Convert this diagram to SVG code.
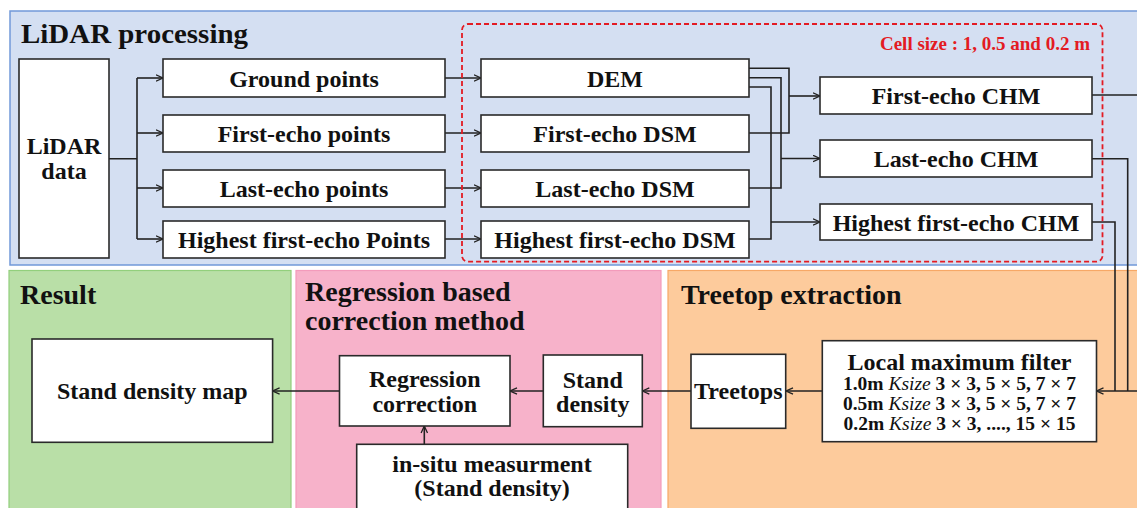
<svg xmlns="http://www.w3.org/2000/svg" width="1137" height="508" viewBox="0 0 1137 508">
  <style>
    text { font-family: "Liberation Serif", "Times New Roman", serif; font-weight: bold; fill: #111; }
    .title { font-size: 28px; }
    .lbl { font-size: 24px; text-anchor: middle; }
    .ks { font-size: 19.5px; text-anchor: middle; }
    .ks .it { font-style: italic; font-weight: normal; }
    .cell { font-size: 19px; fill: #e31b23; text-anchor: end; }
    .box { fill: #ffffff; stroke: #2a2a2a; stroke-width: 1.6; }
    .wire { fill: none; stroke: #222; stroke-width: 1.6; }
    .arr { marker-end: url(#head); }
  </style>
  <defs>
    <marker id="head" viewBox="0 0 8 8" refX="7.5" refY="4" markerWidth="8" markerHeight="8" markerUnits="userSpaceOnUse" orient="auto">
      <path d="M0.5,0.8 L7.5,4 L0.5,7.2" fill="none" stroke="#222" stroke-width="1.3"/>
    </marker>
  </defs>

  <rect width="1137" height="508" fill="#ffffff"/>

  <!-- panels -->
  <g id="panel-lidar">
    <rect x="10" y="11" width="1140" height="254" fill="#d4dff2" stroke="#7199d9" stroke-width="1.5"/>
    <text class="title" x="21" y="43" textLength="227" lengthAdjust="spacingAndGlyphs">LiDAR processing</text>
  </g>
  <g id="panel-result">
    <rect x="9" y="270.5" width="282" height="245" fill="#b9dfa7" stroke="#92cf7c" stroke-width="1.2"/>
    <text class="title" x="20" y="304">Result</text>
  </g>
  <g id="panel-regression">
    <rect x="296" y="270.5" width="365" height="245" fill="#f7b2ca" stroke="#f39bbb" stroke-width="1.2"/>
    <text class="title" x="305" y="301">Regression based</text>
    <text class="title" x="305" y="330">correction method</text>
  </g>
  <g id="panel-treetop">
    <rect x="668" y="270.5" width="480" height="245" fill="#fdcb9c" stroke="#f7a866" stroke-width="1.2"/>
    <text class="title" x="681" y="304">Treetop extraction</text>
  </g>

  <!-- connectors -->
  <g id="connectors">
    <!-- LiDAR data to point sets -->
    <path class="wire" d="M109,158.7 H137 M137,78 V239"/>
    <path class="wire arr" d="M137,78 H163"/>
    <path class="wire arr" d="M137,133 H163"/>
    <path class="wire arr" d="M137,188 H163"/>
    <path class="wire arr" d="M137,239 H163"/>
    <!-- point sets to rasters -->
    <path class="wire arr" d="M445,78 H481"/>
    <path class="wire arr" d="M445,133 H481"/>
    <path class="wire arr" d="M445,188 H481"/>
    <path class="wire arr" d="M445,239 H481"/>
    <!-- DEM and DSMs to CHMs -->
    <path class="wire" d="M749,68.3 H789 V133 H749"/>
    <path class="wire arr" d="M789,96 H820"/>
    <path class="wire" d="M749,77.7 H781 V188 H749"/>
    <path class="wire arr" d="M781,158.5 H820"/>
    <path class="wire" d="M749,87 H771 V239 H749"/>
    <path class="wire arr" d="M771,222 H820"/>
    <!-- CHMs to local maximum filter -->
    <path class="wire" d="M1092,95 H1140"/>
    <path class="wire" d="M1092,158.7 H1127.7 V391"/>
    <path class="wire" d="M1092,222 H1115 V391"/>
    <path class="wire arr" d="M1140,391 H1096.5"/>
    <!-- lower chain -->
    <path class="wire arr" d="M822,391 H786"/>
    <path class="wire arr" d="M691,391 H642.3"/>
    <path class="wire arr" d="M543.3,391 H510"/>
    <path class="wire arr" d="M339.5,391 H272.6"/>
    <path class="wire arr" d="M424.3,444.3 V426"/>
  </g>

  <!-- cell size frame -->
  <g id="cell-size-frame">
    <rect x="462" y="24" width="640.5" height="237.7" rx="6" fill="none" stroke="#e31b23" stroke-width="1.8" stroke-dasharray="5,3"/>
    <text class="cell" x="1090" y="50">Cell size : 1, 0.5 and 0.2 m</text>
  </g>

  <!-- nodes -->
  <g id="lidar-data">
    <rect class="box" x="19" y="59" width="90" height="199"/>
    <text class="lbl" x="64" y="154">LiDAR</text>
    <text class="lbl" x="64" y="179">data</text>
  </g>
  <g id="ground-points">
    <rect class="box" x="163" y="59" width="282" height="38"/>
    <text class="lbl" x="304" y="86.5">Ground points</text>
  </g>
  <g id="first-echo-points">
    <rect class="box" x="163" y="115" width="282" height="37"/>
    <text class="lbl" x="304" y="141.5">First-echo points</text>
  </g>
  <g id="last-echo-points">
    <rect class="box" x="163" y="170" width="282" height="37"/>
    <text class="lbl" x="304" y="196.5">Last-echo points</text>
  </g>
  <g id="highest-points">
    <rect class="box" x="163" y="221" width="282" height="37"/>
    <text class="lbl" x="304" y="247.5">Highest first-echo Points</text>
  </g>

  <g id="dem">
    <rect class="box" x="481" y="59" width="268" height="38"/>
    <text class="lbl" x="615" y="86.5">DEM</text>
  </g>
  <g id="first-echo-dsm">
    <rect class="box" x="481" y="115" width="268" height="37"/>
    <text class="lbl" x="615" y="141.5">First-echo DSM</text>
  </g>
  <g id="last-echo-dsm">
    <rect class="box" x="481" y="170" width="268" height="37"/>
    <text class="lbl" x="615" y="196.5">Last-echo DSM</text>
  </g>
  <g id="highest-dsm">
    <rect class="box" x="481" y="221" width="268" height="37"/>
    <text class="lbl" x="615" y="247.5">Highest first-echo DSM</text>
  </g>

  <g id="first-echo-chm">
    <rect class="box" x="820" y="77" width="272" height="37"/>
    <text class="lbl" x="956" y="104">First-echo CHM</text>
  </g>
  <g id="last-echo-chm">
    <rect class="box" x="820" y="140" width="272" height="37"/>
    <text class="lbl" x="956" y="167">Last-echo CHM</text>
  </g>
  <g id="highest-chm">
    <rect class="box" x="820" y="204" width="272" height="36"/>
    <text class="lbl" x="956" y="230.5">Highest first-echo CHM</text>
  </g>

  <g id="local-max-filter">
    <rect class="box" x="822.3" y="340.7" width="274.2" height="101"/>
    <text class="lbl" x="959.5" y="370">Local maximum filter</text>
    <text class="ks" x="959.5" y="390">1.0m <tspan class="it">Ksize</tspan> 3 × 3, 5 × 5, 7 × 7</text>
    <text class="ks" x="959.5" y="410">0.5m <tspan class="it">Ksize</tspan> 3 × 3, 5 × 5, 7 × 7</text>
    <text class="ks" x="959.5" y="430">0.2m <tspan class="it">Ksize</tspan> 3 × 3, ...., 15 × 15</text>
  </g>
  <g id="treetops">
    <rect class="box" x="691" y="354.3" width="94.7" height="74"/>
    <text class="lbl" x="738.3" y="399">Treetops</text>
  </g>

  <g id="stand-density">
    <rect class="box" x="543.3" y="355" width="99" height="71.7"/>
    <text class="lbl" x="592.8" y="388">Stand</text>
    <text class="lbl" x="592.8" y="412">density</text>
  </g>
  <g id="regression-correction">
    <rect class="box" x="339.5" y="355.7" width="170.5" height="70.3"/>
    <text class="lbl" x="424.8" y="387">Regression</text>
    <text class="lbl" x="424.8" y="411.5">correction</text>
  </g>
  <g id="in-situ">
    <rect class="box" x="356.7" y="444.3" width="271" height="70"/>
    <text class="lbl" x="492" y="472">in-situ measurment</text>
    <text class="lbl" x="492" y="496">(Stand density)</text>
  </g>

  <g id="stand-density-map">
    <rect class="box" x="32" y="339" width="240.6" height="103.3"/>
    <text class="lbl" x="152.3" y="399">Stand density map</text>
  </g>
</svg>
